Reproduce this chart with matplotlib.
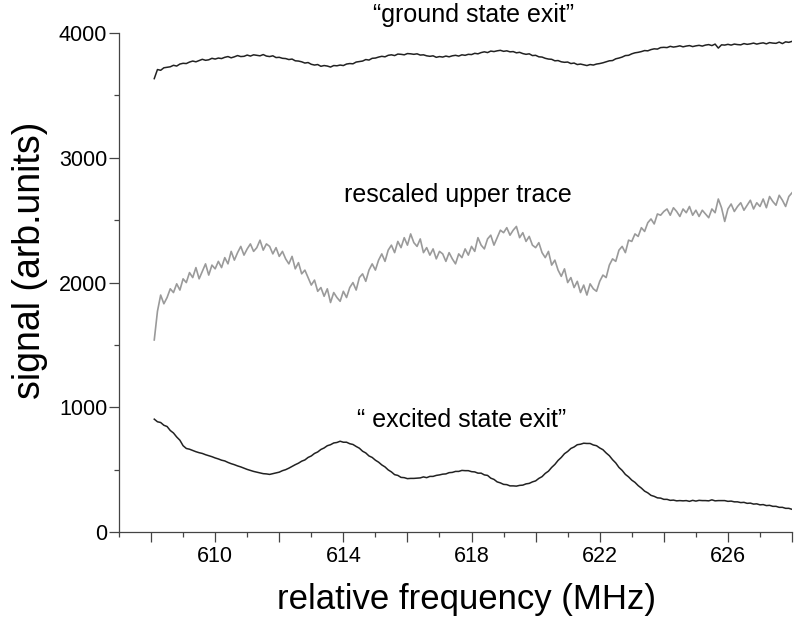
"""Signal traces vs relative frequency: ground state exit, rescaled, excited state exit."""

import matplotlib
matplotlib.use("Agg")
import matplotlib.pyplot as plt
import numpy as np
from matplotlib.ticker import MultipleLocator, FuncFormatter

plt.rcParams["font.family"] = ["Liberation Sans", "DejaVu Sans"]

# frequency grid (MHz), 0.1 MHz steps from 608.1 to 628.0
freq = np.round(608.1 + 0.1 * np.arange(200), 1)

# "ground state exit" trace
ground = [
    3635, 3708, 3702, 3722, 3726, 3730, 3742, 3736, 3752, 3758,
    3756, 3768, 3776, 3770, 3780, 3790, 3782, 3786, 3798, 3792,
    3800, 3796, 3806, 3812, 3802, 3810, 3820, 3812, 3814, 3824,
    3816, 3826, 3822, 3818, 3828, 3816, 3812, 3818, 3804, 3806,
    3798, 3796, 3788, 3792, 3778, 3776, 3770, 3760, 3764, 3750,
    3744, 3748, 3734, 3740, 3736, 3728, 3740, 3738, 3744, 3740,
    3752, 3756, 3754, 3768, 3772, 3776, 3788, 3784, 3798, 3800,
    3808, 3814, 3810, 3822, 3826, 3820, 3832, 3830, 3826, 3836,
    3834, 3830, 3834, 3824, 3826, 3818, 3814, 3818, 3806, 3812,
    3808, 3816, 3810, 3818, 3822, 3816, 3826, 3822, 3830, 3828,
    3838, 3834, 3844, 3850, 3844, 3856, 3852, 3858, 3862, 3854,
    3858, 3850, 3852, 3842, 3846, 3836, 3830, 3834, 3820, 3822,
    3810, 3808, 3798, 3792, 3790, 3778, 3780, 3770, 3766, 3768,
    3756, 3760, 3748, 3752, 3746, 3740, 3748, 3744, 3752, 3756,
    3762, 3770, 3778, 3780, 3794, 3800, 3808, 3820, 3822, 3834,
    3842, 3846, 3852, 3860, 3858, 3868, 3874, 3872, 3884, 3886,
    3884, 3894, 3888, 3892, 3898, 3890, 3896, 3900, 3892, 3898,
    3902, 3896, 3904, 3908, 3900, 3912, 3880, 3906, 3904, 3910,
    3904, 3912, 3908, 3906, 3916, 3910, 3914, 3920, 3912, 3918,
    3922, 3914, 3924, 3920, 3918, 3928, 3916, 3930, 3926, 3934,
]

# "rescaled upper trace"
rescaled = [
    1540, 1770, 1900, 1830, 1880, 1950, 1920, 1990, 1940, 2030,
    2000, 2080, 2040, 2120, 2030, 2090, 2150, 2060, 2140, 2110,
    2170, 2120, 2200, 2150, 2250, 2180, 2240, 2290, 2220, 2270,
    2310, 2250, 2280, 2340, 2260, 2310, 2290, 2230, 2280, 2210,
    2250, 2190, 2150, 2210, 2110, 2160, 2070, 2100, 2040, 1980,
    2020, 1930, 1960, 1890, 1950, 1840, 1920, 1880, 1850, 1930,
    1880, 1960, 2000, 1940, 2040, 2070, 2010, 2100, 2150, 2100,
    2180, 2230, 2170, 2260, 2300, 2240, 2330, 2280, 2360, 2300,
    2390, 2320, 2290, 2350, 2240, 2280, 2220, 2270, 2190, 2250,
    2230, 2170, 2240, 2190, 2150, 2230, 2200, 2270, 2220, 2290,
    2250, 2360, 2300, 2270, 2350, 2380, 2300, 2360, 2420, 2400,
    2440, 2380, 2420, 2450, 2360, 2400, 2330, 2370, 2300, 2280,
    2320, 2240, 2200, 2250, 2140, 2180, 2100, 2050, 2110, 2000,
    2040, 1960, 2010, 1920, 1980, 1900, 1990, 1950, 1930, 2010,
    2060, 2040, 2140, 2190, 2170, 2260, 2290, 2240, 2340, 2330,
    2390, 2370, 2440, 2410, 2480, 2510, 2470, 2550, 2540, 2570,
    2590, 2540, 2600, 2570, 2530, 2590, 2560, 2610, 2540, 2580,
    2530, 2580, 2550, 2520, 2590, 2560, 2670, 2600, 2490, 2590,
    2630, 2570, 2610, 2640, 2580, 2620, 2660, 2590, 2640, 2610,
    2670, 2600, 2690, 2650, 2620, 2700, 2660, 2610, 2690, 2720,
]

# "excited state exit" trace
excited = [
    905, 884, 878, 856, 846, 814, 794, 762, 736, 692,
    670, 664, 654, 644, 636, 630, 620, 612, 604, 594,
    586, 576, 570, 558, 548, 540, 530, 522, 512, 502,
    494, 486, 480, 474, 468, 466, 462, 468, 474, 480,
    492, 500, 512, 526, 540, 552, 568, 578, 598, 610,
    630, 642, 662, 674, 692, 700, 714, 718, 728, 720,
    720, 708, 702, 686, 672, 648, 634, 610, 598, 576,
    560, 538, 522, 498, 482, 460, 454, 438, 436, 428,
    430, 430, 432, 434, 442, 436, 446, 446, 454, 458,
    464, 466, 476, 478, 486, 486, 494, 492, 492, 484,
    482, 472, 472, 458, 454, 432, 422, 402, 394, 382,
    380, 370, 370, 368, 374, 376, 386, 390, 402, 410,
    430, 444, 470, 488, 518, 542, 574, 598, 628, 646,
    670, 682, 700, 704, 712, 710, 710, 698, 692, 674,
    660, 634, 612, 580, 554, 518, 494, 462, 442, 416,
    398, 372, 352, 328, 314, 294, 286, 274, 272, 262,
    262, 254, 256, 250, 252, 250, 252, 246, 254, 248,
    254, 252, 252, 250, 258, 250, 252, 252, 252, 246,
    248, 242, 242, 236, 238, 230, 232, 224, 226, 218,
    220, 212, 214, 206, 206, 198, 198, 190, 190, 182,
]

x_labels = [610, 614, 618, 622, 626]

fig = plt.figure(figsize=(7.96, 6.19), dpi=100)
ax = fig.add_axes([0.1495, 0.1405, 0.8455, 0.806])

ax.plot(freq, ground, color="#222222", linewidth=1.1)
ax.plot(freq, rescaled, color="#9a9a9a", linewidth=1.2)
ax.plot(freq, excited, color="#222222", linewidth=1.1)

ax.text(618.05, 4090, "\u201cground state exit\u201d", ha="center", va="baseline",
        fontsize=18, clip_on=False)
ax.text(617.56, 2642, "rescaled upper trace", ha="center", va="baseline", fontsize=18)
ax.text(617.7, 840, "\u201c excited state exit\u201d", ha="center", va="baseline", fontsize=18)

ax.set_xlim(607, 628)
ax.set_ylim(0, 4000)
ax.xaxis.set_major_locator(MultipleLocator(2))
ax.xaxis.set_minor_locator(MultipleLocator(1))
ax.xaxis.set_major_formatter(FuncFormatter(lambda v, p: f"{v:.0f}" if round(v) in x_labels else ""))
ax.yaxis.set_major_locator(MultipleLocator(1000))
ax.yaxis.set_minor_locator(MultipleLocator(500))

for side in ("top", "right"):
    ax.spines[side].set_visible(False)
for side in ("left", "bottom"):
    ax.spines[side].set_color("#444444")
    ax.spines[side].set_linewidth(0.9)

ax.tick_params(which="major", direction="out", length=7, width=0.9, color="#444444",
               labelsize=15.5)
ax.tick_params(which="minor", direction="out", length=3.5, width=0.9, color="#444444")
ax.tick_params(axis="x", which="major", pad=3)
ax.tick_params(axis="y", which="major", pad=1.5)

ax.set_xlabel("relative frequency (MHz)", fontsize=25)
ax.xaxis.set_label_coords(0.517, -0.102)
ax.set_ylabel("signal (arb.units)", fontsize=27)
ax.yaxis.set_label_coords(-0.105, 0.545)

fig.savefig("out.png", dpi=100)
